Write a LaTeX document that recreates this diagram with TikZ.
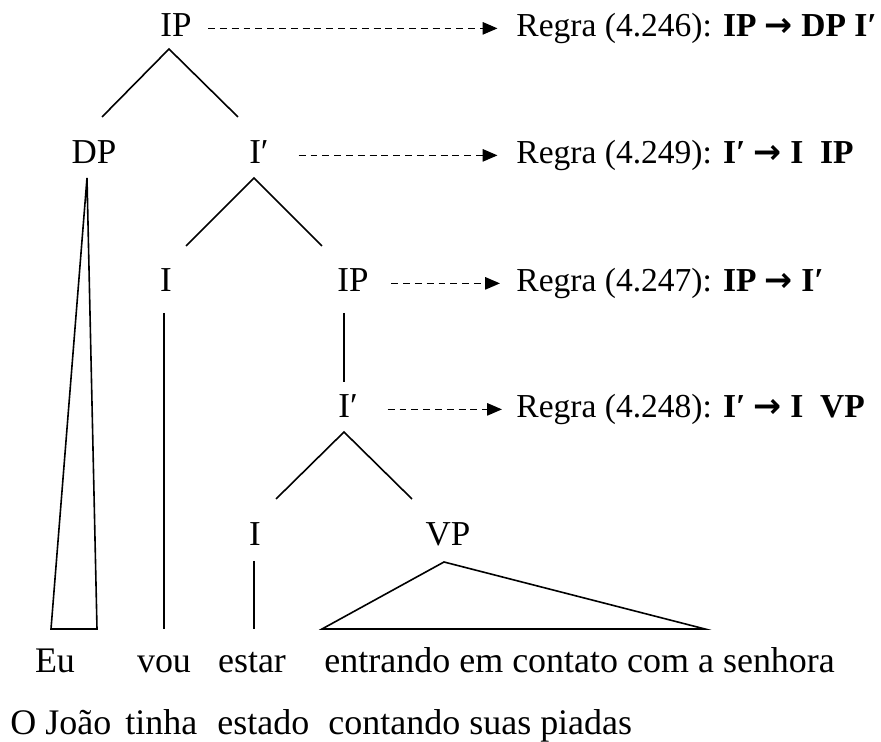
\documentclass[tikz,border=0pt]{standalone}
\usepackage{fontspec}
\setmainfont{Liberation Serif}
\newfontfamily\setas{DejaVu Sans}
\newcommand\seta{{\setas\bfseries →}}
\usetikzlibrary{arrows.meta}

\begin{document}
\begin{tikzpicture}[
		x=0.01426cm, y=-0.01426cm,
		every node/.style={inner sep=0pt, font=\fontsize{14.2}{16}\selectfont},
		lbl/.style={anchor=base, text height=0.7em, text depth=0pt},
		frase/.style={lbl, anchor=base west, font=\fontsize{14.6}{16}\selectfont},
		regrat/.style={lbl, anchor=base west, font=\fontsize{13.6}{15}\selectfont},
		ramo/.style={line width=0.65pt},
		regra/.style={line width=0.6pt, dash pattern=on 2.8pt off 2pt,
				-{Triangle[length=6pt, width=5pt]}, shorten >=7.5pt}
	]
	\useasboundingbox (0,0) rectangle (881,742);

	% rotulos da arvore
	\node[lbl] (ip0) at (176,37) {IP};
	\node[lbl] (dp) at (94,164) {DP};
	\node[lbl] (ib1) at (259,164) {I′};
	\node[lbl] (i1) at (166,292) {I};
	\node[lbl] (ip1) at (353,292) {IP};
	\node[lbl] (ib2) at (348,418) {I′};
	\node[lbl] (i2) at (255,546) {I};
	\node[lbl] (vp) at (448,546) {VP};

	% frases
	\node[frase, anchor=base] (eu) at (55,673) {Eu};
	\node[frase, anchor=base] (vou) at (164,673) {vou};
	\node[frase, anchor=base] (estar) at (252,673) {estar};
	\node[frase] (resto) at (324,673) {entrando em contato com a senhora};
	\node[frase] (joao) at (10,735) {O João};
	\node[frase] (tinha) at (125,735) {tinha};
	\node[frase] (estado) at (217,735) {estado};
	\node[frase] (contando) at (328,735) {contando suas piadas};

	% regras
	\node[regrat] (r1) at (516,37) {Regra (4.246): \textbf{IP \seta\ DP I′}};
	\node[regrat] (r2) at (516,164) {Regra (4.249): \textbf{I′ \seta\ I\ \ IP}};
	\node[regrat] (r3) at (516,292) {Regra (4.247): \textbf{IP \seta\ I′}};
	\node[regrat] (r4) at (516,418) {Regra (4.248): \textbf{I′ \seta\ I\ \ VP}};

	\draw[regra, shorten <=6.5pt] (ip0.east) -- (r1.west);
	\draw[regra, shorten <=12pt] (ib1.east) -- (r2.west);
	\draw[regra, shorten <=9pt, shorten >=6.5pt] (ip1.east) -- (r3.west);
	\draw[regra, shorten <=12pt, shorten >=5.7pt] (ib2.east) -- (r4.west);

	% pontas dos ramos
	\coordinate (t0) at (169,49);  \coordinate (t0a) at (102,117); \coordinate (t0b) at (238,117);
	\coordinate (t1) at (254,178); \coordinate (t1a) at (186,246); \coordinate (t1b) at (322,246);
	\coordinate (t2) at (344,432); \coordinate (t2a) at (276,499); \coordinate (t2b) at (412,499);
	\coordinate (tdp) at (87,178); \coordinate (tdpa) at (51,629);  \coordinate (tdpb) at (97,629);
	\coordinate (tvp) at (444,562); \coordinate (tvpa) at (322,629); \coordinate (tvpb) at (705,629);
	\coordinate (v1a) at (164,313); \coordinate (v1b) at (164,629);
	\coordinate (v2a) at (344,313); \coordinate (v2b) at (344,382);
	\coordinate (v3a) at (254,561); \coordinate (v3b) at (254,629);

	\draw[ramo] (t0a) -- (t0) -- (t0b);
	\draw[ramo] (t1a) -- (t1) -- (t1b);
	\draw[ramo] (t2a) -- (t2) -- (t2b);
	\draw[ramo] (tdp) -- (tdpa) -- (tdpb) -- cycle;
	\draw[ramo] (tvp) -- (tvpa) -- (tvpb) -- cycle;
	\draw[ramo] (v1a) -- (v1b);
	\draw[ramo] (v2a) -- (v2b);
	\draw[ramo] (v3a) -- (v3b);
\end{tikzpicture}
\end{document}
